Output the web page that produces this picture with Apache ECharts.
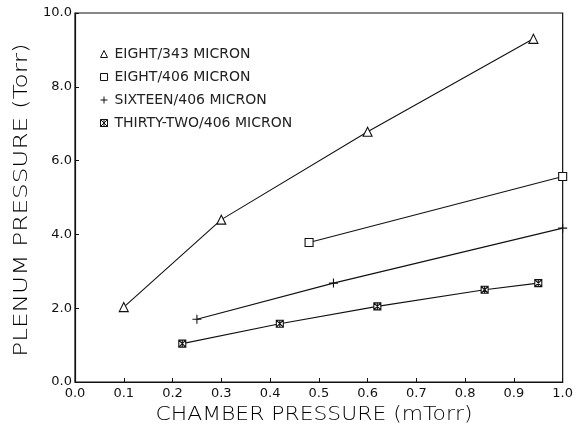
<!DOCTYPE html>
<html>
<head>
<meta charset="utf-8">
<script src="https://cdn.jsdelivr.net/npm/echarts@6/dist/echarts.min.js"></script>
<style>
  html, body { margin: 0; padding: 0; background: #fff; }
  #chart { width: 576px; height: 433px; }
</style>
</head>
<body>
<div id="chart"></div>
<script>
// Plenum pressure vs. chamber pressure for four orifice configurations
const seriesNames = [
  'EIGHT/343 MICRON',
  'EIGHT/406 MICRON',
  'SIXTEEN/406 MICRON',
  'THIRTY-TWO/406 MICRON'
];
const eight343 = [[0.10, 2.03], [0.30, 4.40], [0.60, 6.78], [0.94, 9.30]];
const eight406 = [[0.48, 3.78], [1.00, 5.57]];
const sixteen406 = [[0.25, 1.70], [0.53, 2.68], [1.00, 4.17]];
const thirtyTwo406 = [[0.22, 1.04], [0.42, 1.58], [0.62, 2.05], [0.84, 2.50], [0.95, 2.68]];
const xTicks = { min: 0, max: 1, interval: 0.1 };
const yTicks = { min: 0, max: 10, interval: 2 };
const xTitle = 'CHAMBER PRESSURE (mTorr)';
const yTitle = 'PLENUM PRESSURE (Torr)';

const INK = '#111';
const FONT = '"DejaVu Sans", sans-serif';

// Marker shapes: open triangle, open square, plus, boxed asterisk
const plusPath = 'path://M5,0 L5,10 M0,5 L10,5';
const starPath = 'path://M0,0 L10,0 L10,10 L0,10 Z M0,0 L10,10 M10,0 L0,10 M5,0 L5,10';
const symbols = ['triangle', 'rect', plusPath, starPath];
const sizes = [9, 8, 9, 7];
const dataSets = [eight343, eight406, sixteen406, thirtyTwo406];

const chart = echarts.init(document.getElementById('chart'), null, { renderer: 'canvas' });

const series = dataSets.map((d, i) => ({
  name: seriesNames[i],
  type: 'line',
  data: d,
  symbol: symbols[i],
  symbolSize: sizes[i],
  showAllSymbol: true,
  lineStyle: { color: INK, width: 1.1 },
  itemStyle: { color: '#fff', borderColor: INK, borderWidth: 1.1 },
  emphasis: { disabled: true },
  animation: false
}));

chart.setOption({
  backgroundColor: '#fff',
  animation: false,
  grid: {
    left: 75, right: 13, top: 13, bottom: 51,
    show: true, borderColor: INK, borderWidth: 1.2, backgroundColor: 'transparent'
  },
  legend: {
    data: seriesNames.map((n, i) => ({ name: n, icon: symbols[i] })),
    orient: 'vertical',
    left: 95, top: 42,
    itemWidth: 7, itemHeight: 7, itemGap: 9,
    textStyle: {
      fontFamily: FONT, fontSize: 14, color: '#222',
      padding: [0, 0, 0, 2]
    },
    itemStyle: { color: '#fff', borderColor: INK, borderWidth: 1 },
    selectedMode: false
  },
  xAxis: {
    type: 'value',
    min: xTicks.min, max: xTicks.max, interval: xTicks.interval,
    axisLine: { show: true, onZero: false, lineStyle: { color: INK, width: 1.2 } },
    axisTick: { show: true, inside: true, length: 4, lineStyle: { color: INK } },
    splitLine: { show: false },
    axisLabel: {
      margin: 5, color: INK, fontFamily: FONT, fontSize: 13,
      formatter: v => v.toFixed(1)
    }
  },
  yAxis: {
    type: 'value',
    min: yTicks.min, max: yTicks.max, interval: yTicks.interval,
    axisLine: { show: true, onZero: false, lineStyle: { color: INK, width: 1.2 } },
    axisTick: { show: true, inside: true, length: 4, lineStyle: { color: INK } },
    splitLine: { show: false },
    axisLabel: {
      margin: 3, color: INK, fontFamily: FONT, fontSize: 13,
      formatter: v => v.toFixed(1)
    }
  },
  graphic: [
    {
      type: 'text', x: 314, y: 415, scaleX: 1.15,
      style: { text: xTitle, font: '200 19px ' + FONT, fill: '#000', textAlign: 'center', textVerticalAlign: 'middle' }
    },
    {
      type: 'text', x: 22, y: 200, rotation: Math.PI / 2, scaleX: 1.3,
      style: { text: yTitle, font: '200 19px ' + FONT, fill: '#000', textAlign: 'center', textVerticalAlign: 'middle' }
    }
  ],
  series: series
});
</script>
</body>
</html>
